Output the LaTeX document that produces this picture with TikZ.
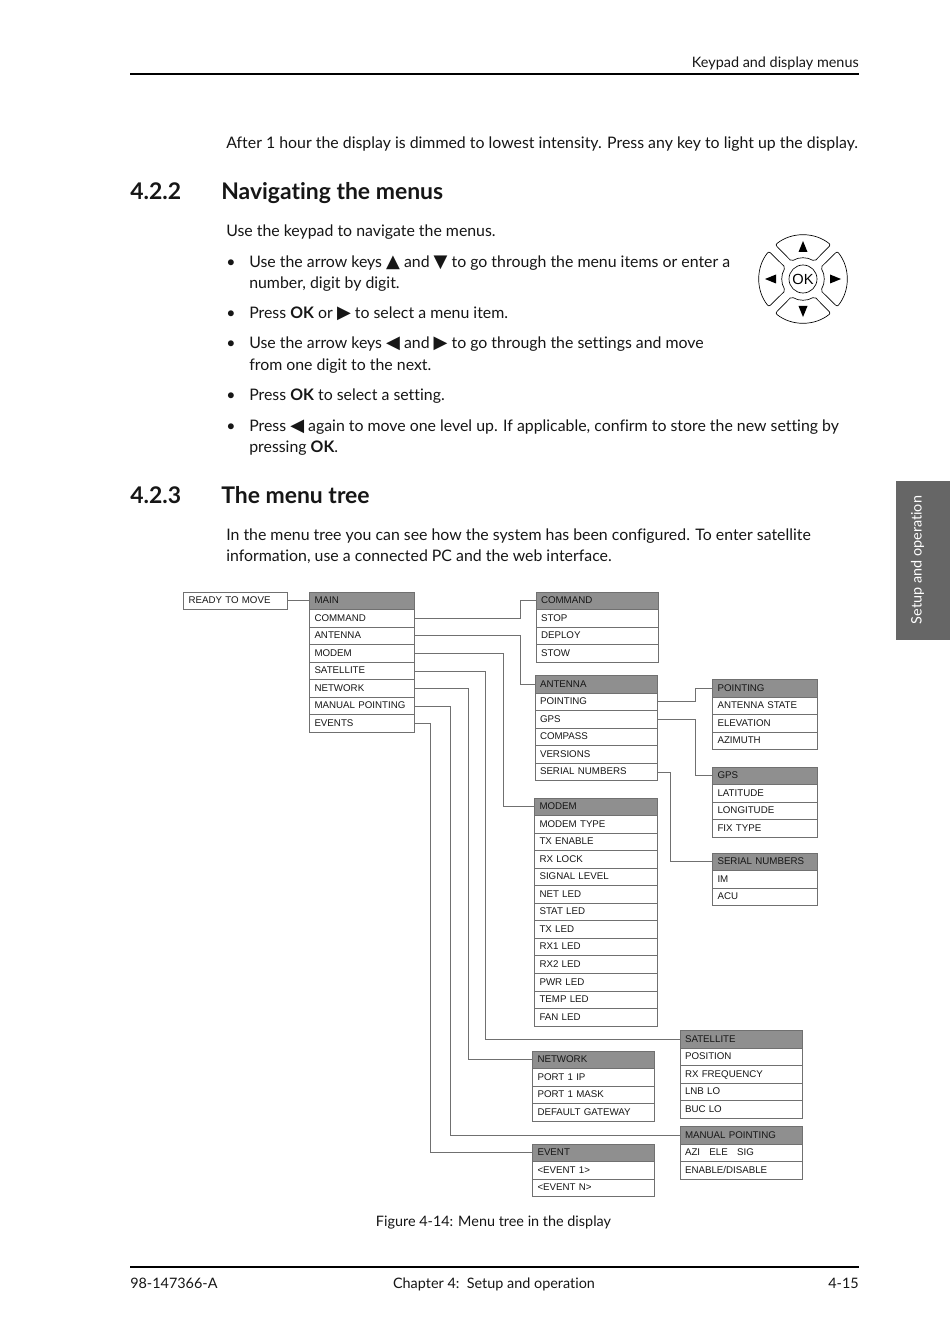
\documentclass[tikz,border=0pt]{standalone}
\usepackage{fontspec}
\setmainfont[Ligatures=NoCommon]{Lato}
\newfontfamily\arialfont{Liberation Sans}
\newfontfamily\symfont{DejaVu Sans}
\usetikzlibrary{arrows.meta,positioning,calc}
\definecolor{headgray}{HTML}{8F8F8F}
\definecolor{linegray}{HTML}{707070}
\definecolor{tabgray}{HTML}{666666}
\definecolor{inkblack}{HTML}{161616}
\newcommand{\keyup}{{\symfont\fontsize{13.5}{14}\selectfont ▲}}
\newcommand{\keydown}{{\symfont\fontsize{13.5}{14}\selectfont ▼}}
\newcommand{\keyleft}{{\symfont\fontsize{13.5}{14}\selectfont ◀}}
\newcommand{\keyright}{{\symfont\fontsize{13.5}{14}\selectfont ▶}}
\newcommand{\menutable}[5]{%
  \node[menuhead,minimum width=#4*0.75pt,text width=#4*0.75pt-7.5pt] (#1-0) at (#2,#3) {#5};
}
\newcommand{\menuitems}[5]{%
  \foreach \t [count=\i] in {#5} {
    \node[menuitem,minimum width=#4*0.75pt,text width=#4*0.75pt-7.5pt] (#1-\i) at (#2,{#3+\i*17.55}) {\t};
  }
}
\tikzset{
  bodytext/.style={font=\fontsize{11.9}{14}\selectfont,text=inkblack,anchor=base west,inner sep=0pt},
  heading/.style={font=\bfseries\fontsize{17.2}{20}\selectfont,text=inkblack,anchor=base west,inner sep=0pt},
  smalltext/.style={font=\fontsize{10.8}{13}\selectfont,text=inkblack,anchor=base west,inner sep=0pt},
  menucell/.style={anchor=north west,outer sep=0pt,inner xsep=3.75pt,inner ysep=0pt,draw=linegray,line width=0.7pt,
    font=\arialfont\fontsize{7.3}{8.5}\selectfont,text=inkblack,align=left,minimum height=13.16pt,text height=5.4pt,text depth=1.2pt},
  menuhead/.style={menucell,fill=headgray},
  menuitem/.style={menucell,fill=white},
  link/.style={draw=linegray,line width=0.7pt},
  petal/.style={draw=black,line width=0.5pt,rounded corners=1.5pt},
  pagerule/.style={draw=black,line width=1.1pt}
}
\begin{document}
\begin{tikzpicture}[x=0.75pt,y=-0.75pt]
\path[use as bounding box,fill=white] (0,0) rectangle (950,1344);
% page head and foot
\node[smalltext,anchor=base east] (pagehead) at (859,67.5) {Keypad and display menus};
\coordinate (ruletopl) at (130,74); \coordinate (ruletopr) at (859,74);
\draw[pagerule] (ruletopl)--(ruletopr);
\coordinate (rulebotl) at (130,1267); \coordinate (rulebotr) at (859,1267);
\draw[pagerule] (rulebotl)--(rulebotr);
\node[smalltext] (docnumber) at (130,1288) {98-147366-A};
\node[smalltext,anchor=base] (chapter) at (494,1288) {Chapter 4:\ \ Setup and operation};
\node[smalltext,anchor=base east] (pagenumber) at (859,1288) {4-15};
\node[anchor=north west,fill=tabgray,minimum width=40.5pt,minimum height=119.25pt,inner sep=0pt,outer sep=0pt] (tab) at (896,481) {};
\node[font=\fontsize{10.8}{13}\selectfont,text=white,rotate=90,inner sep=0pt] (tabtext) at (917.5,560) {Setup and operation};
% text of the page
\node[bodytext] (intro) at (226,149) {After 1 hour the display is dimmed to lowest intensity. Press any key to light up the display.};
\node[heading] (num422) at (130,200) {4.2.2};
\node[heading] (title422) at (221,200) {Navigating the menus};
\node[bodytext] (keypadline) at (226,237) {Use the keypad to navigate the menus.};
\node[bodytext] (bul1) at (226,268) {•};
\node[bodytext] (item1a) at (249,268) {Use the arrow keys \keyup{} and \keydown{} to go through the menu items or enter a};
\node[bodytext] (item1b) at (249,288.5) {number, digit by digit.};
\node[bodytext] (bul2) at (226,318.5) {•};
\node[bodytext] (item2) at (249,318.5) {Press \textbf{OK} or \keyright{} to select a menu item.};
\node[bodytext] (bul3) at (226,349) {•};
\node[bodytext] (item3a) at (249,349) {Use the arrow keys \keyleft{} and \keyright{} to go through the settings and move};
\node[bodytext] (item3b) at (249,370) {from one digit to the next.};
\node[bodytext] (bul4) at (226,400.5) {•};
\node[bodytext] (item4) at (249,400.5) {Press \textbf{OK} to select a setting.};
\node[bodytext] (bul5) at (226,431) {•};
\node[bodytext] (item5a) at (249,431) {Press \keyleft{} again to move one level up. If applicable, confirm to store the new setting by};
\node[bodytext] (item5b) at (249,452) {pressing \textbf{OK}.};
\node[heading] (num423) at (130,503.5) {4.2.3};
\node[heading] (title423) at (221,503.5) {The menu tree};
\node[bodytext] (para1) at (226,540.5) {In the menu tree you can see how the system has been configured. To enter satellite};
\node[bodytext] (para2) at (226,561.5) {information, use a connected PC and the web interface.};
\node[smalltext,anchor=base] (caption) at (493.5,1226) {Figure 4-14: Menu tree in the display};
% keypad
\begin{scope}[shift={(803,279)}]
\foreach \a in {0,90,180,270} {
  \draw[petal] (\a-39:44) arc[start angle=\a-39,end angle=\a+39,radius=44] -- (\a+33:21) arc[start angle=\a+33,end angle=\a-33,radius=21] -- cycle;
  \fill[black] (\a:38) -- ($(\a:27)+(\a+90:4.5)$) -- ($(\a:27)+(\a-90:4.5)$) -- cycle;
}
\node[circle,draw=black,line width=0.5pt,minimum size=21pt,inner sep=0pt,font=\arialfont\fontsize{11}{13}\selectfont] (okkey) at (0,0) {OK};
\end{scope}
% menu tables
\node[menuitem,minimum width=78pt,text width=70.5pt] (ready-0) at (183.5,592) {READY TO MOVE};
\menutable{main}{309.5}{592}{105}{MAIN}
\menuitems{main}{309.5}{592}{105}{COMMAND,ANTENNA,MODEM,SATELLITE,NETWORK,MANUAL POINTING,EVENTS}
\menutable{command}{536}{592}{122}{COMMAND}
\menuitems{command}{536}{592}{122}{STOP,DEPLOY,STOW}
\menutable{antenna}{535}{675.5}{122}{ANTENNA}
\menuitems{antenna}{535}{675.5}{122}{POINTING,GPS,COMPASS,VERSIONS,SERIAL NUMBERS}
\menutable{modem}{534.5}{798}{122.5}{MODEM}
\menuitems{modem}{534.5}{798}{122.5}{MODEM TYPE,TX ENABLE,RX LOCK,SIGNAL LEVEL,NET LED,STAT LED,TX LED,RX1 LED,RX2 LED,PWR LED,TEMP LED,FAN LED}
\menutable{pointing}{712.5}{679.5}{105}{POINTING}
\menuitems{pointing}{712.5}{679.5}{105}{ANTENNA STATE,ELEVATION,AZIMUTH}
\menutable{gps}{712.5}{767}{105}{GPS}
\menuitems{gps}{712.5}{767}{105}{LATITUDE,LONGITUDE,FIX TYPE}
\menutable{serial}{712.5}{853}{105}{SERIAL NUMBERS}
\menuitems{serial}{712.5}{853}{105}{IM,ACU}
\menutable{satellite}{680}{1030.5}{122}{SATELLITE}
\menuitems{satellite}{680}{1030.5}{122}{POSITION,RX FREQUENCY,LNB LO,BUC LO}
\menutable{network}{532.5}{1051}{122}{NETWORK}
\menuitems{network}{532.5}{1051}{122}{PORT 1 IP,PORT 1 MASK,DEFAULT GATEWAY}
\menutable{manual}{680}{1126.5}{122}{MANUAL POINTING}
\menuitems{manual}{680}{1126.5}{122}{AZI\hspace{7pt}ELE\hspace{7pt}SIG,ENABLE/DISABLE}
\menutable{event}{532.5}{1144}{122}{EVENT}
\menuitems{event}{532.5}{1144}{122}{<EVENT 1>,<EVENT N>}
% connectors
\draw[link] (ready-0)--(main-0);
\foreach \from/\via/\to in {main-1/520/command-0,main-2/520/antenna-0,main-3/503/modem-0,main-4/485/satellite-0,main-5/468/network-0,main-6/450/manual-0,main-7/430/event-0,antenna-1/695/pointing-0,antenna-2/695/gps-0,antenna-5/670/serial-0} {
  \draw[link] (\from.east) -| (\via,0 |- \to.west) -- (\to.west);
}
\end{tikzpicture}
\end{document}
